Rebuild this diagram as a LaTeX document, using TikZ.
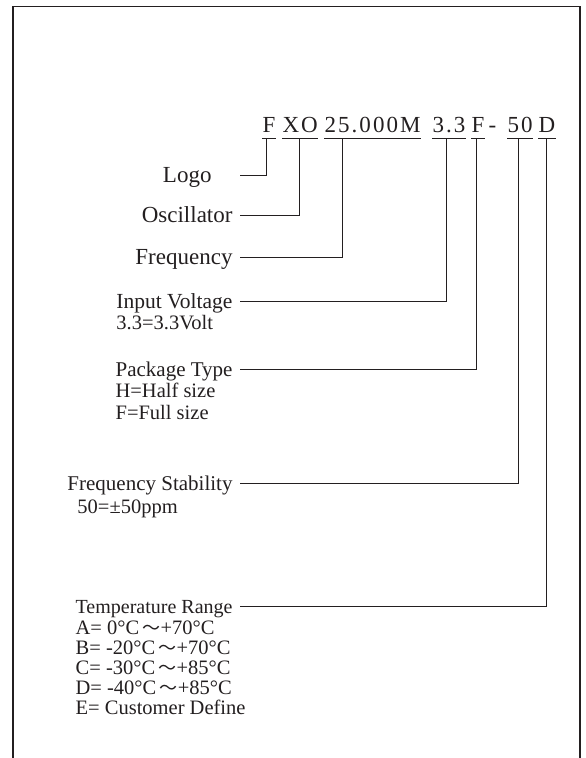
\documentclass[tikz,border=0pt]{standalone}
\usepackage{fontspec}
\setmainfont{Liberation Serif}
\newfontfamily\codefont[LetterSpace=9]{Liberation Serif}
\newfontfamily\cjk{Noto Sans CJK SC}
\newcommand{\wavedash}{\,\smash{\cjk\fontsize{18}{18}\selectfont ～}}
\usetikzlibrary{positioning}
\definecolor{ink}{HTML}{231F20}

\begin{document}
\begin{tikzpicture}[x=1pt, y=-1pt, color=ink, line width=1pt,
    code/.style={font=\codefont\fontsize{23}{23}\selectfont, inner xsep=0pt, inner ysep=6pt, anchor=base west},
    lbl/.style={font=\fontsize{#1}{#1}\selectfont, inner sep=0pt, anchor=base east},
    lbl/.default=21,
    note/.style={font=\fontsize{20.5}{20}\selectfont, inner sep=0pt, align=left}]
                \useasboundingbox (0,0) rectangle (586,758);
                \draw [line width=1.3pt] (13,758) -- (13,6.5) -- (580,6.5) -- (580,758);

                % part number
                \node (fcode) [code] at (262,132) {F};
                \node (xo) [code] at (282,132) {XO};
                \node (freq) [code] at (324,132) {25.000M};
                \node (volt) [code] at (432,132) {3.3};
                \node (pack) [code] at (471,132) {F};
                \node (dash) [code] at (488,132) {-};
                \node (stab) [code] at (507,132) {50};
                \node (range) [code] at (538,132) {D};
                \foreach \n in {fcode,xo,freq,volt,pack,stab,range}
                    \draw (\n.south west) -- (\n.south east);

                % labels
                \node (logo) [lbl=23] at (212,182) {Logo};
                \node (oscillator) [lbl=23] at (233,222) {Oscillator};
                \node (frequency) [lbl=23] at (233,264) {Frequency};
                \node (voltage) [lbl=21.5] at (233,308) {Input Voltage};
                \node (package) [lbl] at (233,376) {Package Type};
                \node (stability) [lbl] at (233,490) {Frequency Stability};
                \node (temperature) [lbl=20] at (233,613) {Temperature Range};

                \node (voltnote) [note, below right=7pt and 0pt of voltage.base west] {\strut 3.3=3.3Volt};
                \node (packnote) [note, below right=7pt and 0pt of package.base west] {\strut H=Half size\\F=Full size};
                \node (stabnote) [note, below right=9pt and 10pt of stability.base west] {\strut 50=±50ppm};
                \node (tempnote) [note, below right=7pt and 0pt of temperature.base west]
                    {\strut A= 0°C\wavedash+70°C\\B= -20°C\wavedash+70°C\\C= -30°C\wavedash+85°C\\D= -40°C\wavedash+85°C\\E= Customer Define};

                \draw ([xshift=28pt,yshift=7pt]logo.base east) -| ([xshift=-2pt]fcode.south);
                \draw ([xshift=7pt,yshift=7pt]oscillator.base east) -| ([xshift=-1pt]xo.south);
                \draw ([xshift=7pt,yshift=7pt]frequency.base east) -| ([xshift=18pt]freq.south west);
                \draw ([xshift=7pt,yshift=7pt]voltage.base east) -| ([xshift=-2pt]volt.south);
                \draw ([xshift=7pt,yshift=7pt]package.base east) -| ([xshift=-1pt]pack.south);
                \draw ([xshift=7pt,yshift=7pt]stability.base east) -| ([xshift=-2pt]stab.south);
                \draw ([xshift=7pt,yshift=7pt]temperature.base east) -| (range.south);
            \end{tikzpicture}
\end{document}
